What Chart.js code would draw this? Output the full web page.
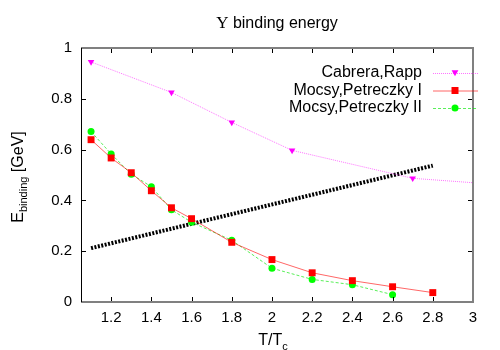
<!DOCTYPE html>
<html>
<head>
<meta charset="utf-8">
<script src="https://cdn.jsdelivr.net/npm/chart.js@4/dist/chart.umd.min.js"></script>
<style>
  html, body { margin: 0; padding: 0; background: #fff; }
  #wrap { width: 500px; height: 350px; }
</style>
</head>
<body>
<div id="wrap"><canvas id="chart" width="500" height="350"></canvas></div>
<script>
const xTicks = [1.2, 1.4, 1.6, 1.8, 2, 2.2, 2.4, 2.6, 2.8, 3];
const yTicks = [0, 0.2, 0.4, 0.6, 0.8, 1];

const cabreraT = [1.1, 1.5, 1.8, 2.1, 2.7, 3.2];
const cabreraE = [0.945, 0.825, 0.707, 0.597, 0.487, 0.458];

const mocsy1T = [1.1, 1.2, 1.3, 1.4, 1.5, 1.6, 1.8, 2.0, 2.2, 2.4, 2.6, 2.8];
const mocsy1E = [0.639, 0.567, 0.509, 0.438, 0.371, 0.328, 0.235, 0.167, 0.115, 0.084, 0.060, 0.037];

const mocsy2T = [1.1, 1.2, 1.3, 1.4, 1.5, 1.6, 1.8, 2.0, 2.2, 2.4, 2.6];
const mocsy2E = [0.671, 0.583, 0.503, 0.454, 0.363, 0.314, 0.243, 0.133, 0.089, 0.068, 0.029];

const tempT = [1.1, 2.8];
const tempE = [0.212, 0.537];

const toXY = (xs, ys) => xs.map((x, i) => ({ x: x, y: ys[i] }));

const FONT = '"Liberation Sans", Arial, sans-serif';

const legendItems = [
    { label: 'Cabrera,Rapp', line: 'rgba(255,0,255,0.55)', color: '#ff00ff', dash: [1, 1], style: 'triangle' },
    { label: 'Mocsy,Petreczky I', line: 'rgba(255,0,0,0.6)', color: '#ff0000', dash: [], style: 'rect' },
    { label: 'Mocsy,Petreczky II', line: 'rgba(0,230,0,0.65)', color: '#00ff00', dash: [3, 2], style: 'circle' }
];

function marker(ctx, style, x, y, color) {
    ctx.fillStyle = color;
    ctx.beginPath();
    if (style === 'rect') {
        ctx.rect(x - 3.5, y - 3.5, 7, 7);
    } else if (style === 'circle') {
        ctx.arc(x, y, 3.5, 0, Math.PI * 2);
    } else {
        ctx.moveTo(x - 3.4, y - 2.8);
        ctx.lineTo(x + 3.4, y - 2.8);
        ctx.lineTo(x, y + 3.2);
        ctx.closePath();
    }
    ctx.fill();
}

const frame = {
    id: 'frame',
    afterDraw(chart) {
        const ctx = chart.ctx;
        const a = chart.chartArea;
        const xs = chart.scales.x, ys = chart.scales.y;
        ctx.save();

        // ticks, inward on all four sides
        ctx.strokeStyle = '#000';
        ctx.lineWidth = 1;
        ctx.beginPath();
        xTicks.forEach(v => {
            const px = Math.round(xs.getPixelForValue(v)) + 0.5;
            ctx.moveTo(px, a.bottom); ctx.lineTo(px, a.bottom - 5);
            ctx.moveTo(px, a.top); ctx.lineTo(px, a.top + 5);
        });
        yTicks.forEach(v => {
            const py = Math.round(ys.getPixelForValue(v)) + 0.5;
            ctx.moveTo(a.left, py); ctx.lineTo(a.left + 5, py);
            ctx.moveTo(a.right, py); ctx.lineTo(a.right - 5, py);
        });
        ctx.stroke();

        // border
        ctx.strokeStyle = '#808080';
        ctx.lineWidth = 2;
        ctx.beginPath();
        ctx.moveTo(a.left, a.top); ctx.lineTo(a.right, a.top);
        ctx.lineTo(a.right, a.bottom); ctx.lineTo(a.left, a.bottom);
        ctx.stroke();
        ctx.strokeStyle = '#000';
        ctx.lineWidth = 1;
        ctx.beginPath();
        ctx.moveTo(a.left + 0.5, a.top); ctx.lineTo(a.left + 0.5, a.bottom);
        ctx.stroke();

        // legend
        ctx.font = '16px ' + FONT;
        ctx.textAlign = 'right';
        ctx.textBaseline = 'middle';
        legendItems.forEach((it, i) => {
            const y = 73 + i * 17.5;
            ctx.fillStyle = '#000';
            ctx.fillText(it.label, 422, y);
            ctx.strokeStyle = it.line;
            ctx.lineWidth = 1;
            ctx.setLineDash(it.dash);
            ctx.beginPath();
            ctx.moveTo(433, y + 0.5); ctx.lineTo(478, y + 0.5);
            ctx.stroke();
            ctx.setLineDash([]);
            marker(ctx, it.style, 455, y, it.color);
        });

        // title
        ctx.fillStyle = '#000';
        ctx.textBaseline = 'alphabetic';
        ctx.textAlign = 'left';
        const serif = '17px "Liberation Serif", "DejaVu Serif", serif';
        const sans = '16px ' + FONT;
        const ups = '\u03A5';
        ctx.font = serif;
        const w1 = ctx.measureText(ups).width;
        ctx.font = sans;
        const w2 = ctx.measureText(' binding energy').width;
        let tx = 277 - (w1 + w2) / 2;
        ctx.font = serif;
        ctx.fillText(ups, tx, 28);
        ctx.font = sans;
        ctx.fillText(' binding energy', tx + w1, 28);

        // x title  T/Tc
        ctx.font = '16px ' + FONT;
        const m1 = ctx.measureText('T/T').width;
        ctx.font = '11px ' + FONT;
        const m2 = ctx.measureText('c').width;
        tx = 273 - (m1 + m2) / 2;
        ctx.font = '16px ' + FONT;
        ctx.fillText('T/T', tx, 345);
        ctx.font = '11px ' + FONT;
        ctx.fillText('c', tx + m1, 350);

        // y title  E_binding [GeV]
        ctx.translate(23, 177);
        ctx.rotate(-Math.PI / 2);
        ctx.font = '16px ' + FONT;
        const e1 = ctx.measureText('E').width;
        const e3 = ctx.measureText(' [GeV]').width;
        ctx.font = '11px ' + FONT;
        const e2 = ctx.measureText('binding').width;
        tx = -(e1 + e2 + e3) / 2;
        ctx.font = '16px ' + FONT;
        ctx.fillText('E', tx, 0);
        ctx.fillText(' [GeV]', tx + e1 + e2, 0);
        ctx.font = '11px ' + FONT;
        ctx.fillText('binding', tx + e1, 4);

        ctx.restore();
    }
};

new Chart(document.getElementById('chart'), {
    type: 'scatter',
    data: {
        datasets: [
            {
                label: 'Cabrera,Rapp',
                data: toXY(cabreraT, cabreraE),
                showLine: true,
                borderColor: 'rgba(255,0,255,0.55)',
                backgroundColor: '#ff00ff',
                borderWidth: 1,
                borderDash: [1, 1],
                pointStyle: 'triangle',
                rotation: 180,
                pointRadius: 3.8,
                pointBorderWidth: 0
            },
            {
                label: 'Mocsy,Petreczky I',
                data: toXY(mocsy1T, mocsy1E),
                showLine: true,
                borderColor: 'rgba(255,0,0,0.6)',
                backgroundColor: '#ff0000',
                borderWidth: 1,
                pointStyle: 'rect',
                pointRadius: 4.9,
                pointBorderWidth: 0
            },
            {
                label: 'Mocsy,Petreczky II',
                data: toXY(mocsy2T, mocsy2E),
                showLine: true,
                borderColor: 'rgba(0,230,0,0.65)',
                backgroundColor: '#00ff00',
                borderWidth: 1,
                borderDash: [3, 2],
                pointStyle: 'circle',
                pointRadius: 3.5,
                pointBorderWidth: 0
            },
            {
                label: 'temperature',
                data: toXY(tempT, tempE),
                showLine: true,
                borderColor: '#000',
                borderWidth: 4,
                borderDash: [2, 1.5],
                pointRadius: 0
            }
        ]
    },
    options: {
        responsive: false,
        animation: false,
        events: [],
        layout: { padding: { left: 0, right: 27, top: 48, bottom: 0 } },
        plugins: {
            legend: { display: false },
            title: { display: false },
            tooltip: { enabled: false }
        },
        scales: {
            x: {
                type: 'linear',
                min: 1.05,
                max: 3,
                grid: { display: false, drawTicks: false },
                border: { display: false },
                afterFit: s => { s.height = 48; },
                afterBuildTicks: s => { s.ticks = xTicks.map(v => ({ value: v })); },
                ticks: {
                    color: '#000',
                    padding: 7,
                    maxRotation: 0,
                    font: { family: FONT, size: 15 },
                    callback: v => String(v)
                }
            },
            y: {
                type: 'linear',
                min: 0,
                max: 1,
                grid: { display: false, drawTicks: false },
                border: { display: false },
                afterFit: s => { s.width = 81; },
                afterBuildTicks: s => { s.ticks = yTicks.map(v => ({ value: v })); },
                ticks: {
                    color: '#000',
                    padding: 9,
                    font: { family: FONT, size: 15 },
                    callback: v => String(v)
                }
            }
        }
    },
    plugins: [frame]
});
</script>
</body>
</html>
